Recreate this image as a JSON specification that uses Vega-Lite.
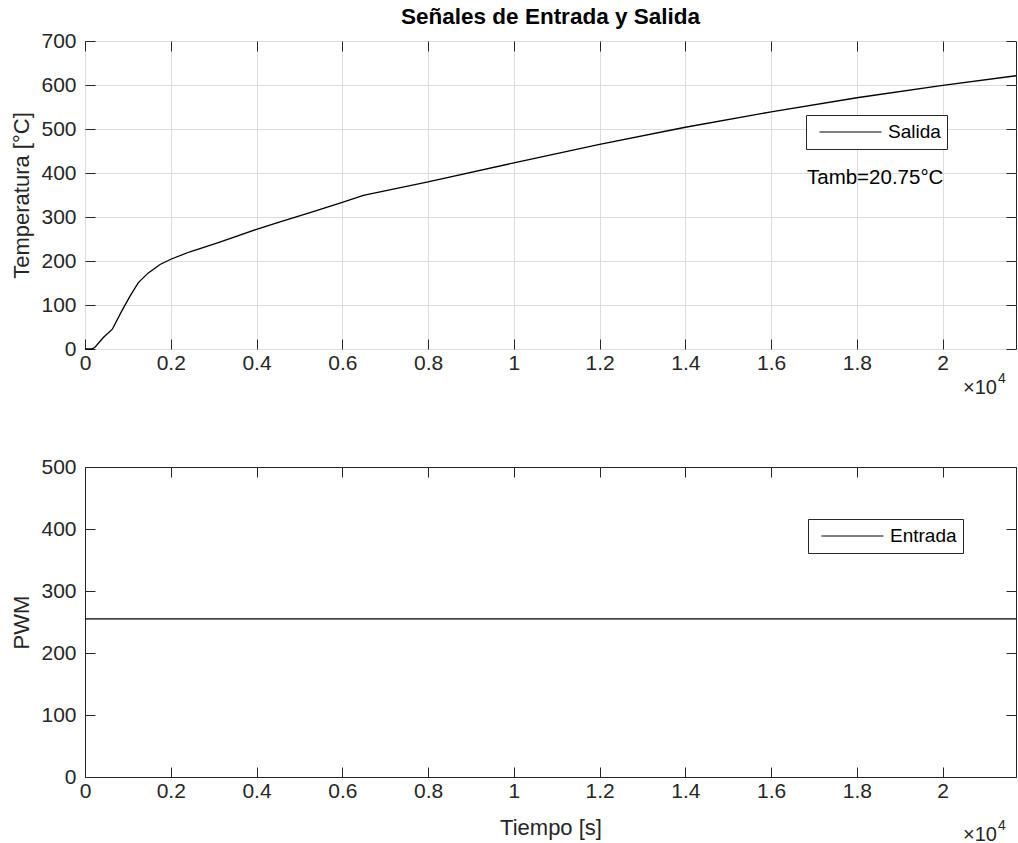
{
  "$schema": "https://vega.github.io/schema/vega-lite/v6.json",
  "autosize": {"type": "pad"},
  "padding": {"left": 10, "top": 5, "right": 2, "bottom": 5},
  "background": "white",
  "spacing": 118,
  "bounds": "flush",
  "resolve": {"scale": {"color": "independent"}, "legend": {"color": "independent"}},
  "config": {
    "font": "Liberation Sans",
    "view": {"stroke": "#262626", "strokeWidth": 1},
    "axis": {
      "labelFont": "Liberation Sans", "labelFontSize": 21, "labelColor": "#262626",
      "titleFont": "Liberation Sans", "titleFontSize": 22, "titleFontWeight": "normal", "titleColor": "#262626",
      "tickColor": "#262626", "tickSize": -10, "tickWidth": 1, "domain": false,
      "labelPadding": 13, "gridColor": "#dcdcdc", "gridWidth": 1,
      "labelFlush": false, "labelOverlap": false, "minExtent": 0
    },
    "axisY": {"labelPadding": 19},
    "legend": {
      "labelFont": "Liberation Sans", "labelFontSize": 19, "labelColor": "#000000",
      "symbolType": "stroke", "symbolSize": 3844, "symbolStrokeWidth": 1,
      "strokeColor": "#262626", "fillColor": "white", "padding": 6,
      "symbolOffset": 7, "labelOffset": 6, "clipHeight": 22
    }
  },
  "datasets": {
    "salida": [
      {"t": 0, "T": 0, "serie": "Salida"},
      {"t": 156, "T": 0, "serie": "Salida"},
      {"t": 233, "T": 4, "serie": "Salida"},
      {"t": 427, "T": 26, "serie": "Salida"},
      {"t": 637, "T": 45, "serie": "Salida"},
      {"t": 856, "T": 86, "serie": "Salida"},
      {"t": 1049, "T": 120, "serie": "Salida"},
      {"t": 1244, "T": 151, "serie": "Salida"},
      {"t": 1477, "T": 173, "serie": "Salida"},
      {"t": 1750, "T": 192, "serie": "Salida"},
      {"t": 2000, "T": 204, "serie": "Salida"},
      {"t": 2448, "T": 221, "serie": "Salida"},
      {"t": 3109, "T": 242, "serie": "Salida"},
      {"t": 4000, "T": 272, "serie": "Salida"},
      {"t": 4547, "T": 289, "serie": "Salida"},
      {"t": 5247, "T": 310, "serie": "Salida"},
      {"t": 6000, "T": 333, "serie": "Salida"},
      {"t": 6490, "T": 349, "serie": "Salida"},
      {"t": 8000, "T": 380, "serie": "Salida"},
      {"t": 10000, "T": 423, "serie": "Salida"},
      {"t": 12000, "T": 465, "serie": "Salida"},
      {"t": 14000, "T": 504, "serie": "Salida"},
      {"t": 16000, "T": 539, "serie": "Salida"},
      {"t": 18000, "T": 571, "serie": "Salida"},
      {"t": 20000, "T": 599, "serie": "Salida"},
      {"t": 21710, "T": 621, "serie": "Salida"}
    ],
    "entrada": [
      {"t": 0, "pwm": 255, "serie": "Entrada"},
      {"t": 10000, "pwm": 255, "serie": "Entrada"},
      {"t": 21710, "pwm": 255, "serie": "Entrada"}
    ]
  },
  "vconcat": [
    {
      "width": 931,
      "height": 308,
      "title": {"text": "Señales de Entrada y Salida", "font": "Liberation Sans", "fontSize": 22.5, "fontWeight": "bold", "color": "#000000", "anchor": "middle", "baseline": "alphabetic", "offset": -16},
      "layer": [
        {
          "data": {"name": "salida"},
          "mark": {"type": "line", "color": "black", "strokeWidth": 1.3},
          "encoding": {
            "x": {"field": "t", "type": "quantitative",
              "scale": {"domain": [0, 21710], "nice": false, "zero": false},
              "axis": {"orient": "bottom", "values": [0, 2000, 4000, 6000, 8000, 10000, 12000, 14000, 16000, 18000, 20000], "labelExpr": "'' + (datum.value / 10000)", "grid": true, "title": null}},
            "y": {"field": "T", "type": "quantitative",
              "scale": {"domain": [0, 700], "nice": false},
              "axis": {"orient": "left", "values": [0, 100, 200, 300, 400, 500, 600, 700], "grid": true, "title": "Temperatura [°C]", "titlePadding": 7}},
            "color": {"field": "serie", "type": "nominal", "scale": {"range": ["black"]},
              "legend": {"title": null, "orient": "none", "legendX": 721, "legendY": 74}}
          }
        },
        {
          "data": {"values": [{}]},
          "mark": {"type": "text", "align": "left", "baseline": "middle", "fontSize": 20.5, "font": "Liberation Sans", "color": "#000000"},
          "encoding": {
            "x": {"datum": 16836, "type": "quantitative", "scale": {"domain": [0, 21710], "nice": false, "zero": false},
              "axis": {"orient": "top", "values": [0, 2000, 4000, 6000, 8000, 10000, 12000, 14000, 16000, 18000, 20000], "labels": false, "grid": false, "title": null}},
            "y": {"datum": 389, "type": "quantitative", "scale": {"domain": [0, 700], "nice": false},
              "axis": {"orient": "right", "values": [0, 100, 200, 300, 400, 500, 600, 700], "labels": false, "grid": false, "title": null}},
            "text": {"value": "Tamb=20.75°C"}
          }
        },
        {
          "data": {"values": [{}]},
          "mark": {"type": "text", "align": "right", "baseline": "middle", "fontSize": 20, "font": "Liberation Sans", "color": "#262626"},
          "encoding": {
            "x": {"datum": 21267, "type": "quantitative", "axis": null},
            "y": {"datum": -88, "type": "quantitative", "axis": null},
            "text": {"value": "×10"}
          }
        },
        {
          "data": {"values": [{}]},
          "mark": {"type": "text", "align": "left", "baseline": "middle", "fontSize": 14, "font": "Liberation Sans", "color": "#262626", "dx": 1, "dy": -9},
          "encoding": {
            "x": {"datum": 21267, "type": "quantitative", "axis": null},
            "y": {"datum": -88, "type": "quantitative", "axis": null},
            "text": {"value": "4"}
          }
        }
      ],
      "resolve": {"axis": {"x": "independent", "y": "independent"}}
    },
    {
      "width": 931,
      "height": 310,
      "layer": [
        {
          "data": {"name": "entrada"},
          "mark": {"type": "line", "color": "black", "strokeWidth": 1.2},
          "encoding": {
            "x": {"field": "t", "type": "quantitative",
              "scale": {"domain": [0, 21710], "nice": false, "zero": false},
              "axis": {"orient": "bottom", "values": [0, 2000, 4000, 6000, 8000, 10000, 12000, 14000, 16000, 18000, 20000], "labelExpr": "'' + (datum.value / 10000)", "grid": false, "title": "Tiempo [s]", "titlePadding": 16}},
            "y": {"field": "pwm", "type": "quantitative",
              "scale": {"domain": [0, 500], "nice": false},
              "axis": {"orient": "left", "values": [0, 100, 200, 300, 400, 500], "grid": false, "title": "PWM", "titlePadding": 7}},
            "color": {"field": "serie", "type": "nominal", "scale": {"range": ["black"]},
              "legend": {"title": null, "orient": "none", "legendX": 723, "legendY": 52}}
          }
        },
        {
          "data": {"values": [{}]},
          "mark": {"type": "text", "align": "right", "baseline": "middle", "fontSize": 20, "font": "Liberation Sans", "color": "#262626"},
          "encoding": {
            "x": {"datum": 21267, "type": "quantitative", "scale": {"domain": [0, 21710], "nice": false, "zero": false},
              "axis": {"orient": "top", "values": [0, 2000, 4000, 6000, 8000, 10000, 12000, 14000, 16000, 18000, 20000], "labels": false, "grid": false, "title": null}},
            "y": {"datum": -93.5, "type": "quantitative", "scale": {"domain": [0, 500], "nice": false},
              "axis": {"orient": "right", "values": [0, 100, 200, 300, 400, 500], "labels": false, "grid": false, "title": null}},
            "text": {"value": "×10"}
          }
        },
        {
          "data": {"values": [{}]},
          "mark": {"type": "text", "align": "left", "baseline": "middle", "fontSize": 14, "font": "Liberation Sans", "color": "#262626", "dx": 1, "dy": -9},
          "encoding": {
            "x": {"datum": 21267, "type": "quantitative", "axis": null},
            "y": {"datum": -93.5, "type": "quantitative", "axis": null},
            "text": {"value": "4"}
          }
        }
      ],
      "resolve": {"axis": {"x": "independent", "y": "independent"}}
    }
  ]
}
